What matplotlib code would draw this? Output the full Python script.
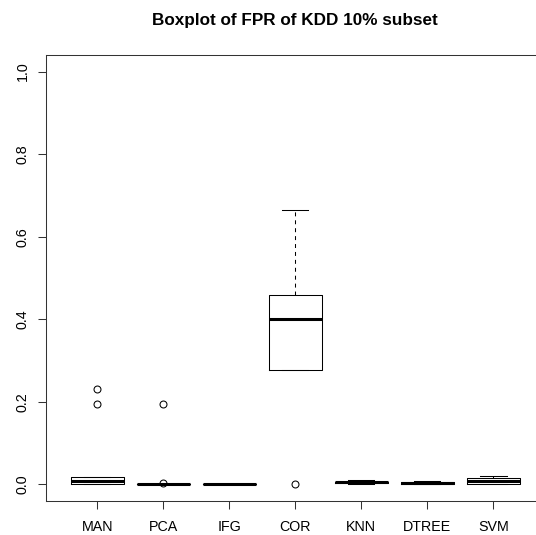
import matplotlib
matplotlib.use("Agg")
from matplotlib import pyplot as plt

plt.rcParams["font.family"] = ["Liberation Sans", "DejaVu Sans"]

methods = ["MAN", "PCA", "IFG", "COR", "KNN", "DTREE", "SVM"]
whis_low = [0.0, 0.0, 0.0, 0.278, 0.001, 0.0, 0.0]
q1 = [0.0, 0.0, 0.0, 0.278, 0.003, 0.001, 0.002]
medians = [0.009, 0.001, 0.001, 0.400, 0.005, 0.004, 0.009]
q3 = [0.018, 0.002, 0.002, 0.459, 0.007, 0.007, 0.016]
whis_high = [0.018, 0.002, 0.002, 0.665, 0.010, 0.009, 0.021]
outliers = [[0.231, 0.194], [0.194, 0.003], [], [0.0], [], [], []]

stats = []
for i, name in enumerate(methods):
    stats.append({
        "label": name,
        "whislo": whis_low[i],
        "q1": q1[i],
        "med": medians[i],
        "q3": q3[i],
        "whishi": whis_high[i],
        "fliers": outliers[i],
    })

fig = plt.figure(figsize=(5.36, 5.35), dpi=100)
# plot region runs past the right edge of the picture, like the original
ax = fig.add_axes([0.0854, 0.0636, 0.931, 0.8336])
ax.patch.set_visible(False)

ax.bxp(stats, widths=0.8, capwidths=0.4, patch_artist=False,
       boxprops=dict(color="black", linewidth=0.75),
       medianprops=dict(color="black", linewidth=2.2, solid_capstyle="butt"),
       whiskerprops=dict(color="black", linewidth=0.75, linestyle=(0, (3.8, 3.8))),
       capprops=dict(color="black", linewidth=0.75),
       flierprops=dict(marker="o", markerfacecolor="none", markeredgecolor="black",
                       markersize=5, markeredgewidth=0.75))

ax.set_xlim(0.22, 7.78)
ax.set_ylim(-0.04, 1.04)
ax.set_yticks([0.0, 0.2, 0.4, 0.6, 0.8, 1.0])
ax.set_yticklabels(["0.0", "0.2", "0.4", "0.6", "0.8", "1.0"], rotation=90, va="center")
ax.set_xticks(range(1, len(methods) + 1))
ax.set_xticklabels(methods)
ax.tick_params(axis="both", length=5.8, width=0.75, color="#333333", labelsize=10.3)
ax.tick_params(axis="x", pad=8)
ax.tick_params(axis="y", pad=6)
for s in ax.spines.values():
    s.set_linewidth(0.75)
    s.set_color("#333333")
ax.spines["right"].set_visible(False)

fig.text(0.55, 1 - 21 / 535, "Boxplot of FPR of KDD 10% subset",
         ha="center", va="center", fontsize=12.3, fontweight="bold")

plt.savefig("out.png", dpi=100, facecolor="white")
